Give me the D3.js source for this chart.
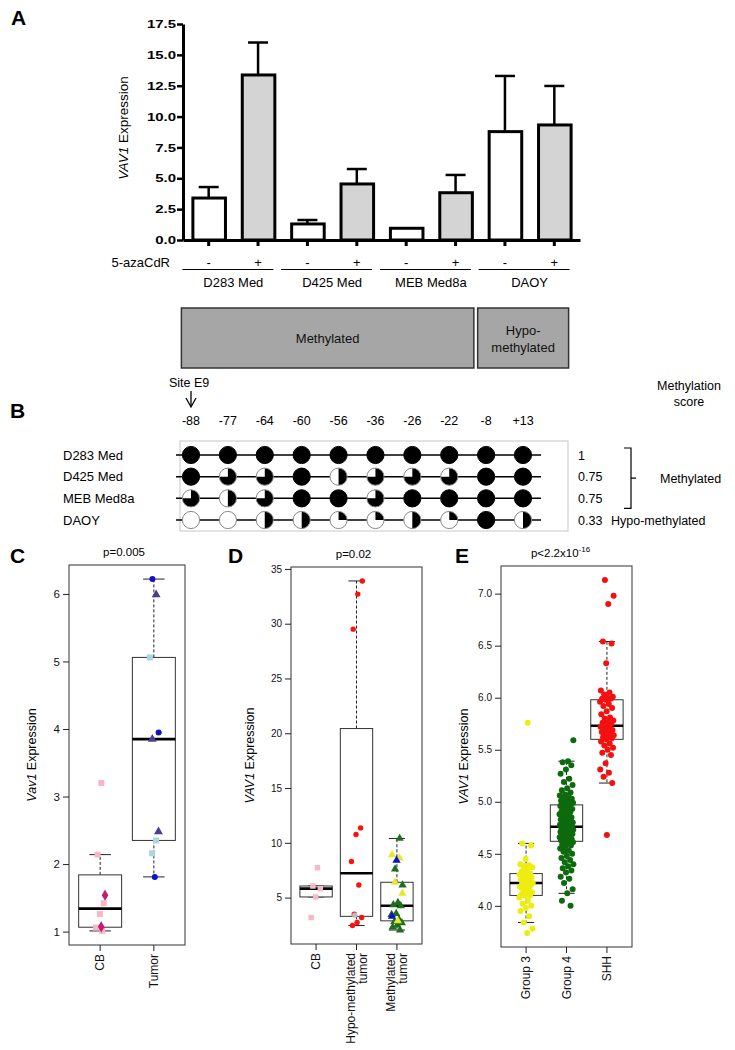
<!DOCTYPE html>
<html><head><meta charset="utf-8">
<script src="https://cdn.jsdelivr.net/npm/d3@7"></script>
<style>body{margin:0;background:#fff}svg{display:block}</style>
</head><body>
<script>
// ---------------- DATA ----------------
// Panel A
const cellLines = ["D283 Med","D425 Med","MEB Med8a","DAOY"];
const treatments = ["-","+"];
const meanExpr = [3.40, 13.37, 1.30, 4.54, 0.95, 3.83, 8.78, 9.32];
const errExpr  = [0.89, 2.63, 0.32, 1.21, 0.00, 1.44, 4.51, 3.16];
const aTicks = [0,2.5,5,7.5,10,12.5,15,17.5];
const statusGroups = ["Methylated","Hypo-\nmethylated"];
// Panel B
const sites = ["-88","-77","-64","-60","-56","-36","-26","-22","-8","+13"];
const methD283 = [1,1,1,1,1,1,1,1,1,1];
const methD425 = [1,0.75,0.75,1,0.5,0.75,0.75,0.75,1,1];
const methMEB  = [0.75,0.5,0.75,1,1,0.75,1,1,1,1];
const methDAOY = [0,0,0.5,0.5,0.25,0.25,0.5,0.25,1,0.5];
const methScores = ["1","0.75","0.75","0.33"];
// Panel C
const cGroups = ["CB","Tumor"];
const cbPink = [3.20, 2.14, 1.42, 1.26, 1.06, 1.01];
const cbMagenta = [1.54, 1.07];
const tumorBlue = [6.22, 3.95, 1.81];
const tumorPurple = [5.99, 3.85, 2.48];
const tumorLightBlue = [5.06, 2.35, 2.16];
const cTicks = [1,2,3,4,5,6];
// Panel D
const dGroups = [["CB"],["Hypo-methylated","tumor"],["Methylated","tumor"]];
const dCB = [7.73, 6.06, 5.82, 5.06, 3.18];
const dHypoRed = [33.9, 32.7, 29.5, 11.36, 10.76, 8.3, 6.15, 3.49, 3.18, 2.73, 2.45];
const dHypoGray = [3.40];
const dMethGreen = [10.4, 7.6, 6.15, 4.55, 4.34, 4.25, 3.55, 3.45, 3.0, 2.8, 2.7, 2.5, 2.3, 2.04];
const dMethYellow = [8.9, 8.6, 6.4, 5.4, 2.88];
const dMethBlue = [8.4, 3.3];
const dTicks = [5,10,15,20,25,30,35];
// Panel E
const eGroups = ["Group 3","Group 4","SHH"];
const eGroup3 = [5.76,4.60,4.58,4.45,4.40,4.39,4.38,4.37,4.35,4.33,4.31,4.31,4.30,4.29,4.28,4.27,4.26,4.25,4.24,4.23,4.22,4.22,4.21,4.20,4.19,4.18,4.16,4.15,4.13,4.12,4.11,4.10,4.10,4.08,4.05,4.02,4.00,3.98,3.95,3.90,3.84,3.78,3.74];
const eGroup4 = [5.59,5.39,5.38,5.35,5.31,5.27,5.22,5.19,5.16,5.13,5.11,5.09,5.07,5.06,5.05,5.04,5.03,5.02,5.01,5.00,5.00,4.99,4.99,4.98,4.98,
 4.97,4.96,4.95,4.94,4.93,4.92,4.91,4.90,4.89,4.88,4.87,4.86,4.85,4.84,4.83,4.82,4.81,4.80,4.80,4.79,4.79,4.78,4.78,4.77,4.77,
 4.76,4.75,4.75,4.74,4.74,4.73,4.73,4.72,4.72,4.71,4.71,4.70,4.70,4.69,4.69,4.68,4.68,4.67,4.66,4.66,4.65,4.64,4.64,4.63,4.63,
 4.62,4.61,4.60,4.59,4.58,4.56,4.55,4.53,4.52,4.50,4.48,4.46,4.44,4.42,4.40,4.38,4.36,4.34,4.32,4.28,4.26,4.22,4.16,4.12,4.05,4.00];
const eSHH = [7.13,6.98,6.90,6.54,6.52,6.33,6.07,6.05,6.03,6.01,6.00,5.99,5.99,5.98,5.96,5.94,5.92,5.90,5.87,5.84,5.81,5.80,5.78,5.77,5.76,5.75,
 5.73,5.72,5.71,5.70,5.69,5.68,5.67,5.66,5.65,5.64,5.63,5.62,5.61,5.60,5.58,5.56,5.54,5.52,5.50,5.47,5.45,5.37,5.31,5.28,5.24,5.18,4.68];
const eTicks = [4.0,4.5,5.0,5.5,6.0,6.5,7.0];

// ---------------- DRAW ----------------
const FF = "'Liberation Sans', Arial, Helvetica, sans-serif";
const svg = d3.select("body").append("svg").attr("width",735).attr("height",1050)
  .style("font-family",FF);

function letter(t,x,y){svg.append("text").attr("x",x).attr("y",y).text(t)
  .attr("font-size",21).attr("font-weight","bold");}

// ===== Panel A =====
letter("A",11,25);
const yA = d3.scaleLinear().domain([0,17.5]).range([240,24]);
const xA = d3.scaleBand().domain(d3.range(meanExpr.length)).range([183,580]).paddingInner(0.3).paddingOuter(0.17);
const bw = xA.bandwidth();
const gA = svg.append("g");
// y axis
const ya = gA.append("g").attr("transform","translate(183,0)")
  .call(d3.axisLeft(yA).tickValues(aTicks).tickFormat(d3.format(".1f")).tickSize(6).tickSizeOuter(0));
ya.select(".domain").attr("stroke-width",3).attr("stroke","#000");
ya.selectAll(".tick line").attr("stroke-width",2.5).attr("stroke","#000");
ya.selectAll(".tick text").attr("font-size",11.5).attr("font-weight","bold").attr("font-family",FF).attr("fill","#000")
  .attr("x",-7/1.3).attr("transform","scale(1.3,1)");
// error bars
const capW = 20;
meanExpr.forEach((v,i)=>{
  if(errExpr[i]<=0) return;
  const cx = xA(i)+bw/2;
  gA.append("line").attr("x1",cx).attr("x2",cx).attr("y1",yA(v)).attr("y2",yA(v+errExpr[i])).attr("stroke","#000").attr("stroke-width",2.5);
  gA.append("line").attr("x1",cx-capW/2).attr("x2",cx+capW/2).attr("y1",yA(v+errExpr[i])).attr("y2",yA(v+errExpr[i])).attr("stroke","#000").attr("stroke-width",2.5);
});
// bars
gA.selectAll("rect.bar").data(meanExpr).join("rect").attr("class","bar")
  .attr("x",(d,i)=>xA(i)+1.5).attr("width",bw-2)
  .attr("y",d=>yA(d)).attr("height",d=>yA(0)-yA(d))
  .attr("fill",(d,i)=> i%2 ? "#d4d4d4" : "#fff").attr("stroke","#000").attr("stroke-width",3);
// x axis
const xa = gA.append("g").attr("transform","translate(0,240)")
  .call(d3.axisBottom(xA).tickSize(6).tickSizeOuter(0).tickFormat(""));
xa.select(".domain").attr("stroke-width",3).attr("stroke","#000");
xa.selectAll(".tick line").attr("stroke-width",3).attr("stroke","#000");
// y label
const ylA = gA.append("text").attr("transform","translate(128,128) rotate(-90)").attr("text-anchor","middle").attr("font-size",13.5);
ylA.append("tspan").attr("font-style","italic").text("VAV1");
ylA.append("tspan").text(" Expression");
// treatment row
gA.append("text").attr("x",170).attr("y",267).attr("text-anchor","end").attr("font-size",13).text("5-azaCdR");
meanExpr.forEach((v,i)=>{
  gA.append("text").attr("x",xA(i)+bw/2).attr("y",267).attr("text-anchor","middle").attr("font-size",13).text(treatments[i%2]);
});
cellLines.forEach((c,k)=>{
  const x0 = xA(2*k), x1 = xA(2*k+1)+bw;
  gA.append("line").attr("x1",x0-9).attr("x2",x1-2).attr("y1",269.5).attr("y2",269.5).attr("stroke","#000").attr("stroke-width",1);
  gA.append("text").attr("x",(xA(2*k)+xA(2*k+1)+bw)/2).attr("y",287).attr("text-anchor","middle").attr("font-size",13).text(c);
});
// status boxes
const boxSpans = [[xA(0)-10, xA(5)+bw+1],[xA(6)-10, xA(7)+bw-3]];
statusGroups.forEach((s,k)=>{
  const [a,b]=boxSpans[k];
  gA.append("rect").attr("x",a).attr("y",308).attr("width",b-a).attr("height",60)
    .attr("fill","#a6a6a6").attr("stroke","#333").attr("stroke-width",1.5);
  const lines = s.split("\n");
  lines.forEach((ln,j)=>{
    gA.append("text").attr("x",(a+b)/2).attr("y",343 + (j-(lines.length-1)/2)*17).attr("text-anchor","middle")
      .attr("font-size",13).attr("fill","#111").text(ln);
  });
});

// ===== Panel B =====
letter("B",10,418);
const gB = svg.append("g");
const xB = d3.scalePoint().domain(sites).range([191,523]);
const rowsB = [methD283, methD425, methMEB, methDAOY];
const yB = d3.scalePoint().domain(cellLines).range([455,520]);
gB.append("rect").attr("x",180).attr("y",441).attr("width",388).attr("height",90).attr("fill","none").attr("stroke","#d0d0d0").attr("stroke-width",1.2);
gB.append("text").attr("x",169).attr("y",387).attr("font-size",12.5).text("Site E9");
// arrow
gB.append("line").attr("x1",xB("-88")).attr("x2",xB("-88")).attr("y1",391).attr("y2",406).attr("stroke","#000").attr("stroke-width",1.3);
gB.append("path").attr("d",`M${xB("-88")-5},398 L${xB("-88")},407 L${xB("-88")+5},398`).attr("fill","none").attr("stroke","#000").attr("stroke-width",1.3);
sites.forEach(s=>{
  gB.append("text").attr("x",xB(s)).attr("y",425).attr("text-anchor","middle").attr("font-size",12.5).text(s);
});
gB.append("text").attr("x",689).attr("y",390).attr("text-anchor","middle").attr("font-size",12.5).text("Methylation");
gB.append("text").attr("x",689).attr("y",406).attr("text-anchor","middle").attr("font-size",12.5).text("score");
const R = 8.6;
const arcB = d3.arc().innerRadius(0).outerRadius(R);
cellLines.forEach((c,r)=>{
  const y = yB(c);
  gB.append("text").attr("x",63).attr("y",y+4.5).attr("font-size",13).text(c);
  gB.append("line").attr("x1",176).attr("x2",541).attr("y1",y).attr("y2",y).attr("stroke","#000").attr("stroke-width",1.5);
  rowsB[r].forEach((f,i)=>{
    const g = gB.append("g").attr("transform",`translate(${xB(sites[i])},${y})`);
    g.append("circle").attr("r",R).attr("fill","#fff");
    if(f>0) g.append("path").attr("d",arcB({startAngle:0,endAngle:f*2*Math.PI})).attr("fill","#000");
    g.append("circle").attr("r",R).attr("fill","none").attr("stroke", f>=1?"#000":"#888").attr("stroke-width",1);
  });
  gB.append("text").attr("x",578).attr("y",y+4.5).attr("font-size",12.5).text(methScores[r]);
});
// bracket
const by0 = yB("D283 Med")-7, by1 = yB("MEB Med8a")+10;
gB.append("path").attr("d",`M624,${by0} H631 V${by1} H624 M631,${(by0+by1)/2} H636`).attr("fill","none").attr("stroke","#000").attr("stroke-width",1.2);
gB.append("text").attr("x",660).attr("y",(by0+by1)/2+4.5).attr("font-size",12.5).text("Methylated");
gB.append("text").attr("x",611).attr("y",yB("DAOY")+4.5).attr("font-size",12.5).text("Hypo-methylated");

// ===== Box plot helper =====
function fivenum(arr){
  const s = arr.slice().sort((a,b)=>a-b), n=s.length;
  const n4 = Math.floor((n+3)/2)/2;
  const d = [1, n4, (n+1)/2, n+1-n4, n];
  return d.map(v=>0.5*(s[Math.floor(v)-1]+s[Math.ceil(v)-1]));
}
function boxPanel(o){
  const g = svg.append("g");
  const [fx0,fx1,fy0,fy1] = o.frame;
  const all = o.series.flatMap(s=>s.values);
  const ext = d3.extent(all), pad=(ext[1]-ext[0])*0.04;
  const y = d3.scaleLinear().domain([ext[0]-pad, ext[1]+pad]).range([fy1,fy0]);
  const n = o.groups.length;
  const x = d3.scaleLinear().domain([0.5-0.04*n, n+0.5+0.04*n]).range([fx0,fx1]);
  const hw = x(1.4)-x(1);
  // boxes
  o.groups.forEach((gname,gi)=>{
    const vals = o.series.filter(s=>s.group===gi).flatMap(s=>s.values);
    const [mn,q1,med,q3,mx] = fivenum(vals);
    const iqr=q3-q1;
    const inside = vals.filter(v=>v>=q1-1.5*iqr-1e-9 && v<=q3+1.5*iqr+1e-9);
    const lo = d3.min(inside), hi = d3.max(inside);
    const cx = x(gi+1);
    g.append("line").attr("x1",cx).attr("x2",cx).attr("y1",y(q3)).attr("y2",y(hi)).attr("stroke","#222").attr("stroke-dasharray","3,2").attr("stroke-width",1);
    g.append("line").attr("x1",cx).attr("x2",cx).attr("y1",y(q1)).attr("y2",y(lo)).attr("stroke","#222").attr("stroke-dasharray","3,2").attr("stroke-width",1);
    [hi,lo].forEach(v=>g.append("line").attr("x1",cx-hw/2).attr("x2",cx+hw/2).attr("y1",y(v)).attr("y2",y(v)).attr("stroke","#222").attr("stroke-width",1));
    g.append("rect").attr("x",cx-hw).attr("width",2*hw).attr("y",y(q3)).attr("height",y(q1)-y(q3)).attr("fill","#fff").attr("stroke","#333").attr("stroke-width",1);
    g.append("line").attr("x1",cx-hw).attr("x2",cx+hw).attr("y1",y(med)).attr("y2",y(med)).attr("stroke","#000").attr("stroke-width",2.6);
  });
  // points
  o.series.forEach((s,si)=>{
    const cx = x(s.group+1);
    s.values.forEach((v,i)=>{
      const j = (((i+1)*0.6180339887 + si*0.37) % 1)*2-1; // deterministic jitter
      const px = cx + j*o.jitter, py = y(v);
      if(s.shape==="circle"){
        g.append("circle").attr("cx",px).attr("cy",py).attr("r",s.size).attr("fill",s.color).attr("opacity",s.opacity||1);
      } else {
        const sym = {square:d3.symbolSquare, diamond:d3.symbolDiamond, triangle:d3.symbolTriangle}[s.shape];
        g.append("path").attr("transform",`translate(${px},${py})`).attr("d",d3.symbol(sym,s.size)()).attr("fill",s.color);
      }
    });
  });
  // frame
  g.append("rect").attr("x",fx0).attr("y",fy0).attr("width",fx1-fx0).attr("height",fy1-fy0).attr("fill","none").attr("stroke","#444").attr("stroke-width",1.1);
  // y axis
  const ya = g.append("g").attr("transform",`translate(${fx0},0)`)
    .call(d3.axisLeft(y).tickValues(o.ticks).tickFormat(o.fmt).tickSize(6).tickSizeOuter(0).tickPadding(3));
  ya.select(".domain").remove();
  ya.selectAll(".tick line").attr("stroke","#222");
  ya.selectAll(".tick text").attr("font-size",o.tickFont||11).attr("font-family",FF).attr("fill","#111");
  // x ticks and labels
  o.groups.forEach((gname,gi)=>{
    const cx=x(gi+1);
    g.append("line").attr("x1",cx).attr("x2",cx).attr("y1",fy1).attr("y2",fy1+6).attr("stroke","#222");
    const lines = Array.isArray(gname)?gname:[gname];
    lines.forEach((ln,k)=>{
      g.append("text").attr("transform",`translate(${cx + (k-(lines.length-1)/2)*12 + 4},${fy1+9}) rotate(-90)`)
        .attr("text-anchor","end").attr("font-size",12).attr("fill","#111").text(ln);
    });
  });
  // y label
  const yl = g.append("text").attr("transform",`translate(${o.ylabX},${(fy0+fy1)/2}) rotate(-90)`).attr("text-anchor","middle").attr("font-size",12.5);
  yl.append("tspan").attr("font-style","italic").text(o.ylabIt);
  yl.append("tspan").text(" Expression");
  // title
  const t = g.append("text").attr("x",(fx0+fx1)/2 - (o.titleShift||3)).attr("y",fy0-9).attr("text-anchor","middle").attr("font-size",11.5);
  t.append("tspan").text(o.title);
  if(o.sup) t.append("tspan").attr("dy",-5).attr("font-size",8).text(o.sup);
}

// ===== Panel C =====
letter("C",10,563);
boxPanel({frame:[69,185,565,945], groups:cGroups, ticks:cTicks, fmt:d3.format("d"), ylabX:36, ylabIt:"Vav1",
  title:"p=0.005", jitter:5, tickFont:11.5,
  series:[
    {group:0, values:cbPink, shape:"square", color:"#f5b8c6", size:36},
    {group:0, values:cbMagenta, shape:"diamond", color:"#c81a70", size:38},
    {group:1, values:tumorBlue, shape:"circle", color:"#1010c8", size:3},
    {group:1, values:tumorPurple, shape:"triangle", color:"#4a3f8f", size:34},
    {group:1, values:tumorLightBlue, shape:"square", color:"#a9d6e2", size:36}
  ]});

// ===== Panel D =====
letter("D",228,563);
boxPanel({frame:[291,422,567,944], groups:dGroups, ticks:dTicks, fmt:d3.format("d"), ylabX:254, ylabIt:"VAV1",
  title:"p=0.02", jitter:6, tickFont:10,
  series:[
    {group:0, values:dCB, shape:"square", color:"#f5b8c6", size:30},
    {group:1, values:dHypoRed, shape:"circle", color:"#ff1010", size:2.7},
    {group:1, values:dHypoGray, shape:"circle", color:"#bdbdbd", size:2.7},
    {group:2, values:dMethGreen, shape:"triangle", color:"#1f6e1f", size:30},
    {group:2, values:dMethYellow, shape:"triangle", color:"#e8e82a", size:30},
    {group:2, values:dMethBlue, shape:"triangle", color:"#1010d0", size:30}
  ]});

// ===== Panel E =====
letter("E",455,563);
boxPanel({frame:[501,632,566,947], groups:eGroups, ticks:eTicks, fmt:d3.format(".1f"), ylabX:468, ylabIt:"VAV1",
  title:"p<2.2x10", sup:"-16", titleShift:6, jitter:7, tickFont:10,
  series:[
    {group:0, values:eGroup3, shape:"circle", color:"#eded10", size:3},
    {group:1, values:eGroup4, shape:"circle", color:"#0d6b0d", size:3},
    {group:2, values:eSHH, shape:"circle", color:"#f51010", size:3}
  ]});
</script>
</body></html>
